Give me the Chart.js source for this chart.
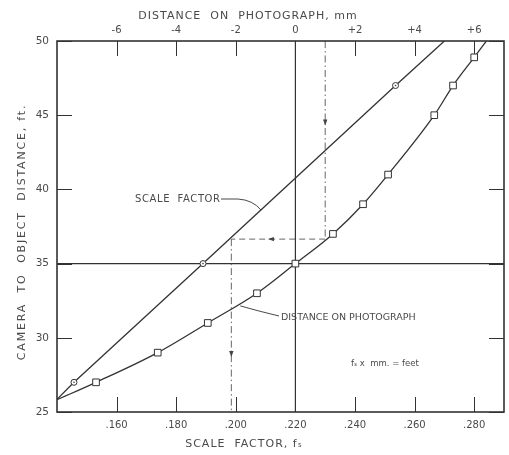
<!DOCTYPE html>
<html>
<head>
<meta charset="utf-8">
<script src="https://cdn.jsdelivr.net/npm/chart.js@4.4.1/dist/chart.umd.min.js"></script>
<style>
  html, body { margin: 0; padding: 0; background: #fff; }
  canvas { display: block; }
</style>
</head>
<body>
<canvas id="chart" width="509" height="455"></canvas>
<script>
// Values
// scale factor line (bottom axis, fs)
const scaleFactor = [0.1400, 0.1457, 0.1890, 0.2536, 0.2700];
const scaleFactorFeet = [25.85, 27, 35, 47, 50];

// distance on photograph curve (top axis, mm)
const photoMm = [-8.03, -6.69, -4.62, -2.94, -1.29, 0, 1.26, 2.27, 3.11, 4.66, 5.29, 6.0, 6.41];
const photoFeet = [25.8, 27, 29, 31, 33, 35, 37, 39, 41, 45, 47, 48.9, 50];

// tick values
const scaleTicks = [0.16, 0.18, 0.20, 0.22, 0.24, 0.26, 0.28];
const mmTicks = [-6, -4, -2, 0, 2, 4, 6];
const feetTicks = [25, 30, 35, 40, 45, 50];

// worked example shown with dashed lines
const exampleMm = 1.0;
const exampleFeet = 36.65;
const exampleScale = 0.1985;

const INK = '#333';
const TEXT = '#4a4a4a';
const FONT = '"DejaVu Sans", sans-serif';

Chart.defaults.font.family = FONT;
Chart.defaults.color = TEXT;

// no marker on the two ends where the curves leave the frame
function markerRadius(size) {
    return ctx => {
        const last = ctx.dataset.data.length - 1;
        return (ctx.dataIndex === 0 || ctx.dataIndex === last) ? 0 : size;
    };
}

function drawText(ctx, text, x, y, size, spacing, align) {
    ctx.font = size + 'px ' + FONT;
    ctx.letterSpacing = spacing + 'px';
    ctx.textAlign = align;
    ctx.textBaseline = 'middle';
    ctx.fillText(text, x, y);
    ctx.letterSpacing = '0px';
}

function arrowHead(ctx, x, y, dir) {
    ctx.beginPath();
    if (dir === 'down') {
        ctx.moveTo(x, y + 3);
        ctx.lineTo(x - 2.2, y - 3);
        ctx.lineTo(x + 2.2, y - 3);
    } else {
        ctx.moveTo(x - 3, y);
        ctx.lineTo(x + 3, y - 2.2);
        ctx.lineTo(x + 3, y + 2.2);
    }
    ctx.closePath();
    ctx.fill();
}

const sketchPlugin = {
    id: 'sketch',
    beforeDatasetsDraw(chart) {
        const { ctx, chartArea: a, scales } = chart;
        const x = scales.x, x2 = scales.x2, y = scales.y;
        ctx.save();
        ctx.strokeStyle = INK;
        ctx.fillStyle = INK;
        ctx.lineWidth = 1;

        // inward tick marks
        ctx.beginPath();
        scaleTicks.forEach(v => {
            const px = Math.round(x.getPixelForValue(v)) + 0.5;
            ctx.moveTo(px, a.bottom);
            ctx.lineTo(px, a.bottom - 15);
        });
        mmTicks.forEach(v => {
            const px = Math.round(x2.getPixelForValue(v)) + 0.5;
            ctx.moveTo(px, a.top);
            ctx.lineTo(px, a.top + 15);
        });
        feetTicks.forEach(v => {
            const py = Math.round(y.getPixelForValue(v)) + 0.5;
            ctx.moveTo(a.left, py);
            ctx.lineTo(a.left + 15, py);
            ctx.moveTo(a.right, py);
            ctx.lineTo(a.right - 15, py);
        });
        ctx.stroke();

        // full lines at 35 ft and at fs .220 / 0 mm
        ctx.lineWidth = 1.2;
        ctx.beginPath();
        const y35 = y.getPixelForValue(35);
        const x0 = x2.getPixelForValue(0);
        ctx.moveTo(a.left, y35);
        ctx.lineTo(a.right, y35);
        ctx.moveTo(x0, a.top);
        ctx.lineTo(x0, a.bottom);
        ctx.stroke();

        // construction lines for the example
        const exMm = x2.getPixelForValue(exampleMm);
        const exFt = y.getPixelForValue(exampleFeet);
        const exSf = x.getPixelForValue(exampleScale);
        ctx.strokeStyle = '#555';
        ctx.lineWidth = 0.9;
        ctx.setLineDash([7, 3, 1.5, 3]);
        ctx.beginPath();
        ctx.moveTo(exMm, a.top);
        ctx.lineTo(exMm, exFt);
        ctx.moveTo(exSf, exFt);
        ctx.lineTo(exSf, a.bottom);
        ctx.stroke();
        ctx.setLineDash([6, 4]);
        ctx.beginPath();
        ctx.moveTo(exMm, exFt);
        ctx.lineTo(exSf, exFt);
        ctx.stroke();
        ctx.setLineDash([]);

        ctx.fillStyle = '#444';
        arrowHead(ctx, exMm, y.getPixelForValue(44.5), 'down');
        arrowHead(ctx, x.getPixelForValue(0.2118), exFt, 'left');
        arrowHead(ctx, exSf, y.getPixelForValue(28.9), 'down');
        ctx.restore();
    },
    afterDatasetsDraw(chart) {
        const { ctx, chartArea: a, scales } = chart;
        const x = scales.x, x2 = scales.x2, y = scales.y;
        ctx.save();

        // small dot in the middle of the circle markers
        ctx.fillStyle = INK;
        chart.getDatasetMeta(0).data.forEach(pt => {
            if (pt.options.radius > 0) {
                ctx.beginPath();
                ctx.arc(pt.x, pt.y, 0.8, 0, Math.PI * 2);
                ctx.fill();
            }
        });

        // frame
        ctx.strokeStyle = INK;
        ctx.lineWidth = 1.6;
        ctx.strokeRect(a.left, a.top, a.right - a.left, a.bottom - a.top);

        // leader lines
        ctx.lineWidth = 0.9;
        ctx.beginPath();
        const sfEndX = x.getPixelForValue(0.2085), sfEndY = y.getPixelForValue(38.6);
        ctx.moveTo(221, 199);
        ctx.lineTo(238, 199);
        ctx.quadraticCurveTo(253, 200, sfEndX, sfEndY);
        const phEndX = x2.getPixelForValue(-1.85), phEndY = y.getPixelForValue(32.15);
        ctx.moveTo(279, 316);
        ctx.quadraticCurveTo(258, 311, phEndX, phEndY);
        ctx.stroke();

        // texts
        ctx.fillStyle = TEXT;
        drawText(ctx, 'DISTANCE  ON  PHOTOGRAPH, mm', 248, 16, 11, 1.0, 'center');
        drawText(ctx, 'SCALE  FACTOR, fₛ', 244, 444, 11, 1.0, 'center');
        ctx.save();
        ctx.translate(22, 232);
        ctx.rotate(-Math.PI / 2);
        drawText(ctx, 'CAMERA  TO  OBJECT  DISTANCE, ft.', 0, 0, 11, 1.8, 'center');
        ctx.restore();
        drawText(ctx, 'SCALE  FACTOR', 135, 199, 10, 0.6, 'left');
        drawText(ctx, 'DISTANCE ON PHOTOGRAPH', 281, 318, 9.5, 0, 'left');
        drawText(ctx, 'fₛ x  mm. = feet', 351, 364, 8.5, 0, 'left');
        ctx.restore();
    }
};

const hiddenGrid = { display: false, drawTicks: false };

new Chart(document.getElementById('chart'), {
    type: 'line',
    data: {
        datasets: [
            {
                label: 'Scale factor',
                data: scaleFactor.map((v, i) => ({ x: v, y: scaleFactorFeet[i] })),
                xAxisID: 'x',
                yAxisID: 'y',
                borderColor: INK,
                borderWidth: 1.3,
                tension: 0,
                pointStyle: 'circle',
                pointRadius: markerRadius(3),
                pointBackgroundColor: '#fff',
                pointBorderColor: INK,
                pointBorderWidth: 1
            },
            {
                label: 'Distance on photograph',
                data: photoMm.map((v, i) => ({ x: v, y: photoFeet[i] })),
                xAxisID: 'x2',
                yAxisID: 'y',
                borderColor: INK,
                borderWidth: 1.3,
                cubicInterpolationMode: 'monotone',
                pointStyle: 'rect',
                pointRadius: markerRadius(4.7),
                pointBackgroundColor: '#fff',
                pointBorderColor: INK,
                pointBorderWidth: 1
            }
        ]
    },
    options: {
        responsive: false,
        animation: false,
        devicePixelRatio: 1,
        layout: { padding: { left: 0, right: 5, top: 0, bottom: 0 } },
        plugins: {
            legend: { display: false },
            tooltip: { enabled: false }
        },
        scales: {
            x: {
                type: 'linear',
                position: 'bottom',
                min: 0.14,
                max: 0.29,
                grid: hiddenGrid,
                border: { display: false },
                afterBuildTicks: s => { s.ticks = scaleTicks.map(v => ({ value: v })); },
                afterFit: s => { s.height = 43; },
                ticks: {
                    autoSkip: false,
                    maxRotation: 0,
                    padding: 7,
                    font: { size: 10 },
                    callback: v => v.toFixed(3).slice(1)
                }
            },
            x2: {
                type: 'linear',
                position: 'top',
                min: -8,
                max: 7,
                grid: hiddenGrid,
                border: { display: false },
                afterBuildTicks: s => { s.ticks = mmTicks.map(v => ({ value: v })); },
                afterFit: s => { s.height = 41; },
                ticks: {
                    autoSkip: false,
                    maxRotation: 0,
                    padding: 5,
                    font: { size: 10 },
                    callback: v => (v > 0 ? '+' + v : String(v))
                }
            },
            y: {
                type: 'linear',
                position: 'left',
                min: 25,
                max: 50,
                grid: hiddenGrid,
                border: { display: false },
                afterBuildTicks: s => { s.ticks = feetTicks.map(v => ({ value: v })); },
                afterFit: s => { s.width = 57; },
                ticks: {
                    autoSkip: false,
                    padding: 8,
                    font: { size: 10.5 }
                }
            }
        }
    },
    plugins: [sketchPlugin]
});
</script>
</body>
</html>
